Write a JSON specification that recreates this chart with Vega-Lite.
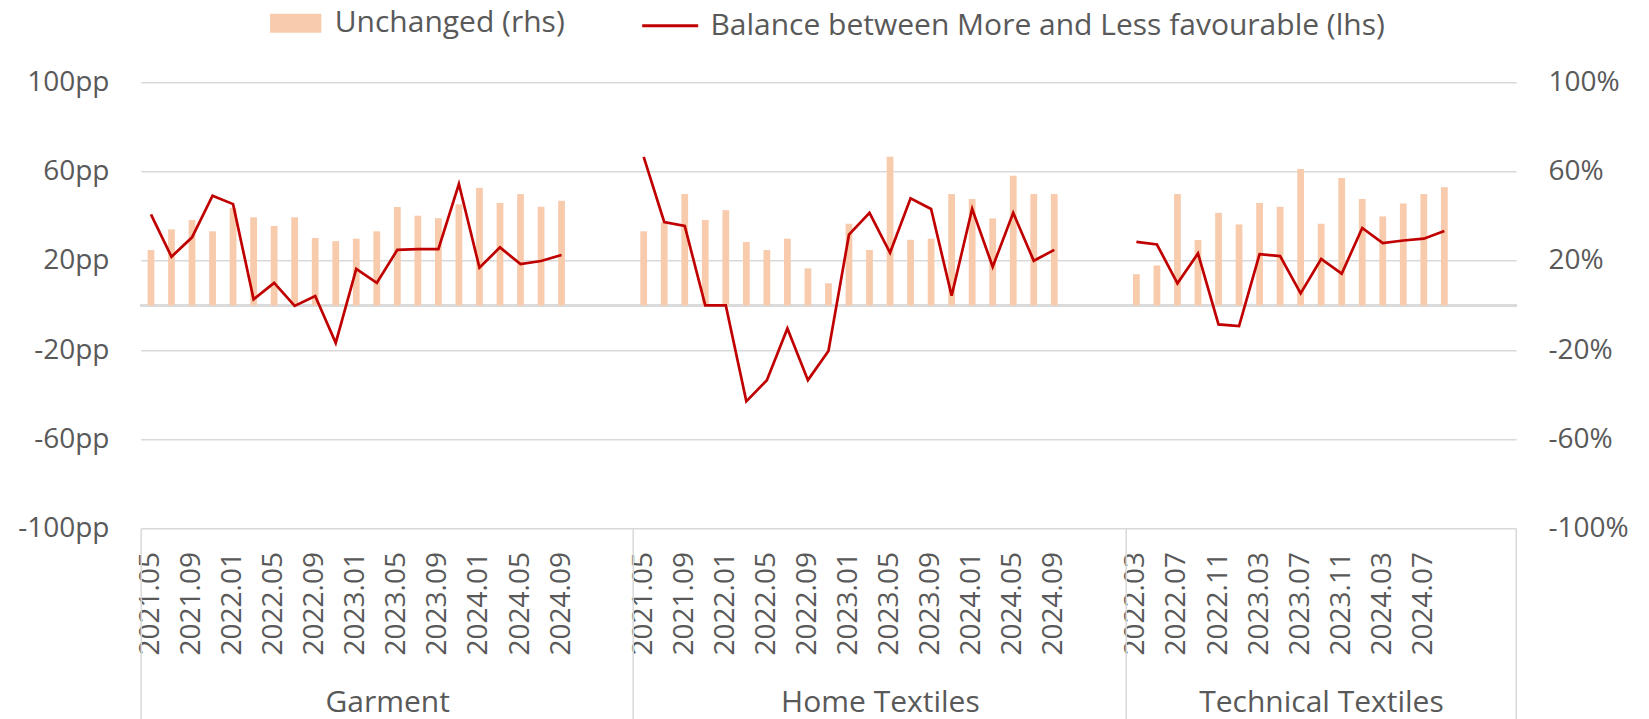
{
  "$schema": "https://vega.github.io/schema/vega-lite/v6.json",
  "autosize": {"type": "none"},
  "padding": {"left": 140.7, "top": 82.3, "right": 132.8, "bottom": 190.5},
  "width": 1375.5,
  "height": 446.2,
  "background": "white",
  "config": {
    "view": {"stroke": null},
    "font": "Open Sans",
    "axis": {"labelFont": "Open Sans", "labelColor": "#595959", "labelFontSize": 28, "title": null, "labelLimit": 2000},
    "legend": {"labelFont": "Open Sans", "labelColor": "#595959", "labelFontSize": 30, "labelLimit": 2000}
  },
  "data": {
    "values": [
      {"group": "Garment", "key": "G|2021.05", "unchanged": 24.8, "balance": 40.8},
      {"group": "Garment", "key": "G|2021.07", "unchanged": 34.1, "balance": 21.8},
      {"group": "Garment", "key": "G|2021.09", "unchanged": 38.3, "balance": 30.5},
      {"group": "Garment", "key": "G|2021.11", "unchanged": 33.2, "balance": 49.2},
      {"group": "Garment", "key": "G|2022.01", "unchanged": 43.6, "balance": 45.4},
      {"group": "Garment", "key": "G|2022.03", "unchanged": 39.5, "balance": 2.7},
      {"group": "Garment", "key": "G|2022.05", "unchanged": 35.6, "balance": 10.1},
      {"group": "Garment", "key": "G|2022.07", "unchanged": 39.5, "balance": -0.2},
      {"group": "Garment", "key": "G|2022.09", "unchanged": 30.2, "balance": 4.2},
      {"group": "Garment", "key": "G|2022.11", "unchanged": 28.8, "balance": -16.8},
      {"group": "Garment", "key": "G|2023.01", "unchanged": 29.9, "balance": 16.4},
      {"group": "Garment", "key": "G|2023.03", "unchanged": 33.2, "balance": 10.1},
      {"group": "Garment", "key": "G|2023.05", "unchanged": 44.1, "balance": 24.9},
      {"group": "Garment", "key": "G|2023.07", "unchanged": 40.2, "balance": 25.2},
      {"group": "Garment", "key": "G|2023.09", "unchanged": 39.1, "balance": 25.2},
      {"group": "Garment", "key": "G|2023.11", "unchanged": 45.3, "balance": 54.4},
      {"group": "Garment", "key": "G|2024.01", "unchanged": 52.7, "balance": 16.9},
      {"group": "Garment", "key": "G|2024.03", "unchanged": 45.9, "balance": 26.0},
      {"group": "Garment", "key": "G|2024.05", "unchanged": 49.9, "balance": 18.5},
      {"group": "Garment", "key": "G|2024.07", "unchanged": 44.2, "balance": 19.9},
      {"group": "Garment", "key": "G|2024.09", "unchanged": 46.9, "balance": 22.6},
      {"group": "Home Textiles", "key": "H|2021.05", "unchanged": 33.2, "balance": 66.6},
      {"group": "Home Textiles", "key": "H|2021.07", "unchanged": 37.2, "balance": 37.4},
      {"group": "Home Textiles", "key": "H|2021.09", "unchanged": 49.9, "balance": 35.6},
      {"group": "Home Textiles", "key": "H|2021.11", "unchanged": 38.3, "balance": 0},
      {"group": "Home Textiles", "key": "H|2022.01", "unchanged": 42.7, "balance": 0},
      {"group": "Home Textiles", "key": "H|2022.03", "unchanged": 28.4, "balance": -43.0},
      {"group": "Home Textiles", "key": "H|2022.05", "unchanged": 24.8, "balance": -33.5},
      {"group": "Home Textiles", "key": "H|2022.07", "unchanged": 29.9, "balance": -10.3},
      {"group": "Home Textiles", "key": "H|2022.09", "unchanged": 16.6, "balance": -33.5},
      {"group": "Home Textiles", "key": "H|2022.11", "unchanged": 9.9, "balance": -20.4},
      {"group": "Home Textiles", "key": "H|2023.01", "unchanged": 36.6, "balance": 31.7},
      {"group": "Home Textiles", "key": "H|2023.03", "unchanged": 24.8, "balance": 41.5},
      {"group": "Home Textiles", "key": "H|2023.05", "unchanged": 66.6, "balance": 23.6},
      {"group": "Home Textiles", "key": "H|2023.07", "unchanged": 29.4, "balance": 48.0},
      {"group": "Home Textiles", "key": "H|2023.09", "unchanged": 29.9, "balance": 43.2},
      {"group": "Home Textiles", "key": "H|2023.11", "unchanged": 49.9, "balance": 4.3},
      {"group": "Home Textiles", "key": "H|2024.01", "unchanged": 47.7, "balance": 43.3},
      {"group": "Home Textiles", "key": "H|2024.03", "unchanged": 39.0, "balance": 17.3},
      {"group": "Home Textiles", "key": "H|2024.05", "unchanged": 58.1, "balance": 41.5},
      {"group": "Home Textiles", "key": "H|2024.07", "unchanged": 49.9, "balance": 20.0},
      {"group": "Home Textiles", "key": "H|2024.09", "unchanged": 49.9, "balance": 24.9},
      {"group": "Technical Textiles", "key": "T|2022.03", "unchanged": 14.0, "balance": 28.5},
      {"group": "Technical Textiles", "key": "T|2022.05", "unchanged": 17.9, "balance": 27.3},
      {"group": "Technical Textiles", "key": "T|2022.07", "unchanged": 49.9, "balance": 9.9},
      {"group": "Technical Textiles", "key": "T|2022.09", "unchanged": 29.3, "balance": 23.3},
      {"group": "Technical Textiles", "key": "T|2022.11", "unchanged": 41.5, "balance": -8.5},
      {"group": "Technical Textiles", "key": "T|2023.01", "unchanged": 36.3, "balance": -9.3},
      {"group": "Technical Textiles", "key": "T|2023.03", "unchanged": 45.9, "balance": 23.0},
      {"group": "Technical Textiles", "key": "T|2023.05", "unchanged": 44.2, "balance": 22.1},
      {"group": "Technical Textiles", "key": "T|2023.07", "unchanged": 61.1, "balance": 5.4},
      {"group": "Technical Textiles", "key": "T|2023.09", "unchanged": 36.6, "balance": 20.8},
      {"group": "Technical Textiles", "key": "T|2023.11", "unchanged": 57.1, "balance": 14.2},
      {"group": "Technical Textiles", "key": "T|2024.01", "unchanged": 47.7, "balance": 34.7},
      {"group": "Technical Textiles", "key": "T|2024.03", "unchanged": 39.9, "balance": 27.9},
      {"group": "Technical Textiles", "key": "T|2024.05", "unchanged": 45.7, "balance": 29.1},
      {"group": "Technical Textiles", "key": "T|2024.07", "unchanged": 49.9, "balance": 29.9},
      {"group": "Technical Textiles", "key": "T|2024.09", "unchanged": 53.0, "balance": 33.3}
    ]
  },
  "encoding": {
    "x": {
      "field": "key",
      "type": "ordinal",
      "scale": {
        "type": "band",
        "paddingInner": 0,
        "paddingOuter": 0,
        "domain": [
          "G|2021.05","G|2021.07","G|2021.09","G|2021.11","G|2022.01","G|2022.03","G|2022.05","G|2022.07","G|2022.09","G|2022.11","G|2023.01","G|2023.03","G|2023.05","G|2023.07","G|2023.09","G|2023.11","G|2024.01","G|2024.03","G|2024.05","G|2024.07","G|2024.09","G|x1","G|x2","G|x3",
          "H|2021.05","H|2021.07","H|2021.09","H|2021.11","H|2022.01","H|2022.03","H|2022.05","H|2022.07","H|2022.09","H|2022.11","H|2023.01","H|2023.03","H|2023.05","H|2023.07","H|2023.09","H|2023.11","H|2024.01","H|2024.03","H|2024.05","H|2024.07","H|2024.09","H|x1","H|x2","H|x3",
          "T|2022.03","T|2022.05","T|2022.07","T|2022.09","T|2022.11","T|2023.01","T|2023.03","T|2023.05","T|2023.07","T|2023.09","T|2023.11","T|2024.01","T|2024.03","T|2024.05","T|2024.07","T|2024.09","T|x1","T|x2","T|x3"
        ]
      }
    }
  },
  "layer": [
    {
      "mark": {"type": "rule", "color": "#D9D9D9", "strokeWidth": 1.5},
      "encoding": {
        "x": null,
        "y": {"datum": 0, "type": "quantitative", "scale": {"domain": [-100, 100], "nice": false}, "axis": null}
      }
    },
    {
      "mark": {"type": "bar", "width": {"band": 0.33}},
      "encoding": {
        "x": {
          "field": "key",
          "type": "ordinal",
          "axis": {
            "orient": "bottom",
            "values": ["G|2021.05","G|2021.09","G|2022.01","G|2022.05","G|2022.09","G|2023.01","G|2023.05","G|2023.09","G|2024.01","G|2024.05","G|2024.09",
                       "H|2021.05","H|2021.09","H|2022.01","H|2022.05","H|2022.09","H|2023.01","H|2023.05","H|2023.09","H|2024.01","H|2024.05","H|2024.09",
                       "T|2022.03","T|2022.07","T|2022.11","T|2023.03","T|2023.07","T|2023.11","T|2024.03","T|2024.07"],
            "labelExpr": "split(datum.value, '|')[1]",
            "labelAngle": -90,
            "labelAlign": "right",
            "labelBaseline": "middle",
            "labelPadding": 23,
            "labelOverlap": false,
            "labelBound": false,
            "labelFlush": false,
            "ticks": false,
            "tickSize": 0,
            "domain": false,
            "grid": false
          }
        },
        "y": {
          "field": "unchanged",
          "type": "quantitative",
          "scale": {"domain": [-100, 100], "nice": false},
          "axis": {
            "orient": "left",
            "values": [-100, -60, -20, 20, 60, 100],
            "labelExpr": "datum.value + 'pp'",
            "grid": true,
            "gridColor": "#D9D9D9",
            "gridWidth": 1.5,
            "domain": false,
            "ticks": false,
            "labelPadding": 31.7
          }
        },
        "color": {
          "datum": "Unchanged (rhs)",
          "scale": {"range": ["#F8CBAD"]},
          "legend": {
            "orient": "none",
            "legendX": 140,
            "legendY": -74,
            "title": null,
            "symbolType": "M-2.7,-1H2.7V1H-2.7Z",
            "symbolSize": 361,
            "symbolStrokeWidth": 0,
            "symbolOpacity": 1,
            "labelOffset": 24
          }
        }
      }
    },
    {
      "mark": {"type": "line", "strokeWidth": 2.7},
      "encoding": {
        "x": {
          "field": "key",
          "type": "ordinal",
          "axis": {
            "orient": "bottom",
            "values": ["G|2021.05", "G|x3", "H|x3", "T|x3"],
            "bandPosition": 1,
            "tickExtra": true,
            "ticks": true,
            "tickSize": 190.5,
            "tickColor": "#D9D9D9",
            "tickWidth": 1.5,
            "tickOpacity": {"condition": {"test": "datum.value === 'G|2021.05'", "value": 0}, "value": 1},
            "labelExpr": "datum.value === 'G|x3' ? 'Garment' : datum.value === 'H|x3' ? 'Home Textiles' : datum.value === 'T|x3' ? 'Technical Textiles' : ''",
            "labelOffset": {"condition": {"test": "datum.value === 'T|x3'", "value": -184.5}, "value": -235.5},
            "labelFontSize": 30,
            "labelLimit": 2000,
            "labelAngle": 0,
            "labelAlign": "center",
            "labelBaseline": "alphabetic",
            "labelPadding": -8,
            "labelOverlap": false,
            "labelBound": false,
            "labelFlush": false,
            "domain": false,
            "grid": false
          }
        },
        "y": {
          "field": "balance",
          "type": "quantitative",
          "axis": {
            "orient": "right",
            "values": [-100, -60, -20, 20, 60, 100],
            "labelExpr": "datum.value + '%'",
            "grid": false,
            "domain": false,
            "ticks": false,
            "labelPadding": 31.8
          }
        },
        "detail": {"field": "group"},
        "stroke": {
          "datum": "Balance between More and Less favourable (lhs)",
          "scale": {"range": ["#C00000"]},
          "legend": {
            "orient": "none",
            "legendX": 500,
            "legendY": -86,
            "title": null,
            "symbolType": "stroke",
            "symbolSize": 3136,
            "symbolStrokeWidth": 3,
            "labelOffset": 10.7
          }
        }
      }
    }
  ],
  "resolve": {
    "axis": {"x": "independent", "y": "independent"},
    "scale": {"color": "independent", "stroke": "independent"}
  }
}
